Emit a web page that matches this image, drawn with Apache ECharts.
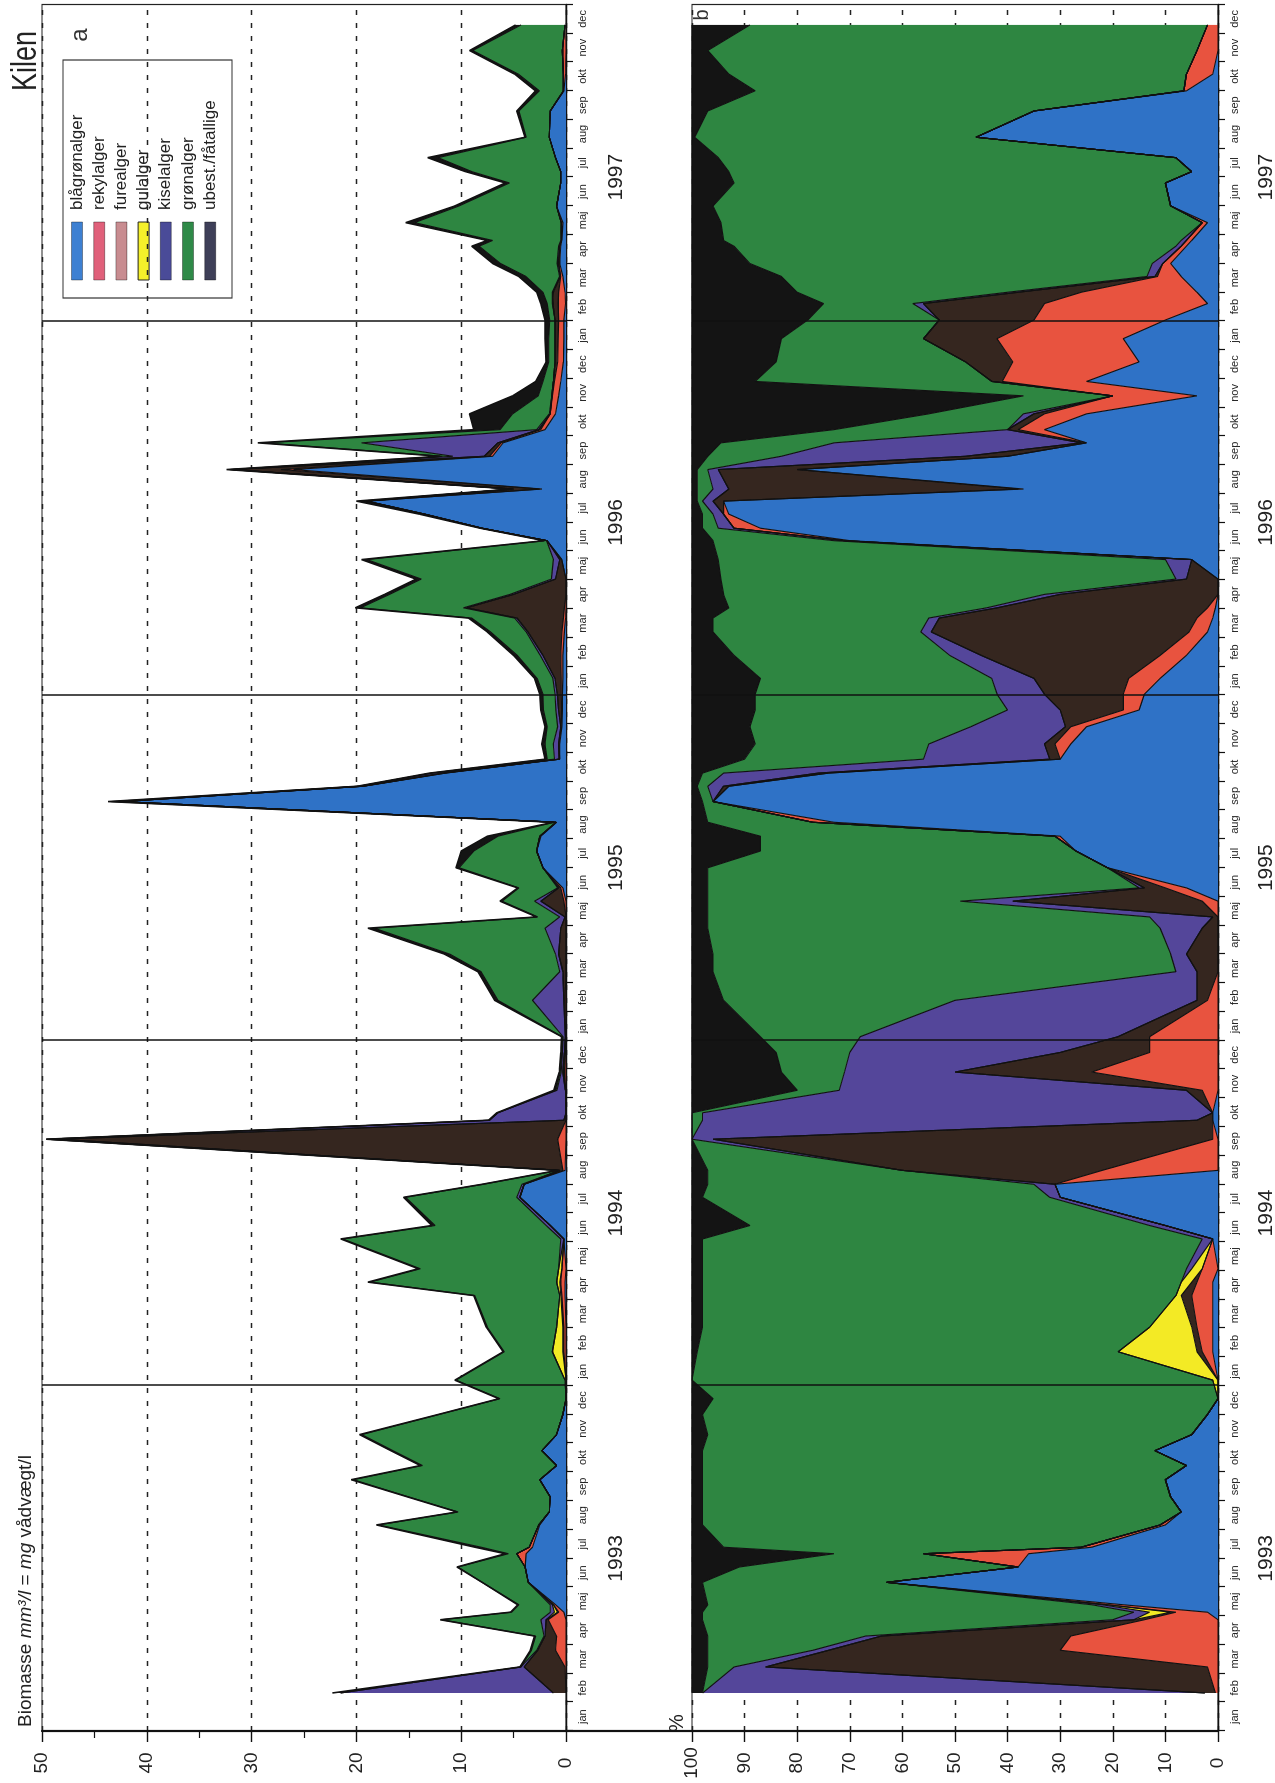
<!DOCTYPE html>
<html>
<head>
<meta charset="utf-8">
<script src="https://cdn.jsdelivr.net/npm/echarts/dist/echarts.min.js"></script>
<style>
  html, body { margin: 0; padding: 0; background: #fff; width: 1275px; height: 1783px; overflow: hidden; }
  /* the figure is laid out in landscape and turned a quarter turn for the portrait page */
  #wrap { position: absolute; left: 0; top: 0; width: 1783px; height: 1275px;
          transform-origin: 0 0; transform: translate(0px, 1783px) rotate(-90deg); }
</style>
</head>
<body>
<div id="wrap"></div>
<script>
// ---- sampling dates (Kilen, 1993-1997) ----
const sampleDates = [
  // 1993
  '1993-02-10','1993-03-08','1993-03-26','1993-04-10','1993-04-27','1993-05-05','1993-05-13','1993-06-06','1993-06-22','1993-07-06',
  '1993-07-13','1993-08-06','1993-08-20','1993-09-05','1993-09-23','1993-10-08','1993-10-24','1993-11-10','1993-12-01','1993-12-18',
  // 1994
  '1994-01-07','1994-02-06','1994-03-02','1994-04-05','1994-04-19','1994-05-03','1994-06-04','1994-06-18','1994-07-18','1994-08-01',
  '1994-08-16','1994-09-18','1994-10-08','1994-10-16','1994-11-09','1994-11-28','1994-12-19',
  // 1995
  '1995-01-05','1995-02-12','1995-03-13','1995-04-01','1995-04-28','1995-05-10','1995-05-27','1995-06-10','1995-07-01','1995-07-19',
  '1995-08-04','1995-08-19','1995-09-10','1995-09-26','1995-10-10','1995-10-25','1995-11-10','1995-11-28','1995-12-16',
  // 1996
  '1996-01-02','1996-01-19','1996-02-12','1996-03-07','1996-03-22','1996-04-02','1996-04-16','1996-05-02','1996-05-23','1996-06-12',
  '1996-06-25','1996-07-10','1996-07-24','1996-08-06','1996-08-27','1996-09-10','1996-09-24','1996-10-08','1996-10-25','1996-11-13',
  '1996-11-28','1996-12-19',
  // 1997
  '1997-01-13','1997-02-02','1997-02-18','1997-03-01','1997-03-18','1997-04-01','1997-04-19','1997-04-25','1997-05-14','1997-06-01',
  '1997-06-25','1997-07-07','1997-07-22','1997-08-13','1997-09-10','1997-10-01','1997-10-19','1997-11-13','1997-12-10'
];

// ---- a: biomass, mm3/l (= mg wet weight/l) ----
const biomBlaagroen = [
  0,0,0,0,0,0.2,1.0,3.6,3.9,3.8,3.2,2.5,1.6,1.5,2.5,0.9,2.3,0.9,0.3,0,
  0,0,0,0.1,0.1,0,0.2,1.5,4.4,4.0,0.1,0,0,0,0,0,0,
  0,0,0,0,0,0,0,0.3,2.2,2.8,2.4,0.9,42.5,19.3,11.5,0.6,0.6,0.4,0.35,
  0.35,0.3,0.3,0.15,0.05,0,0,0,0.4,1.8,8.0,13.5,19.0,2.3,26,7.0,6.0,2.0,1.0,0.7,0.5,0.25,
  0.2,0.2,0.05,0.1,0.3,0.6,0.5,0.4,0.3,0.9,0.5,0.5,1.0,1.6,1.5,0.2,0.05,0,0
];
const biomRekyl = [
  0,0.1,1.0,0.9,1.7,0.5,0.2,0,0,0.9,0.3,0.1,0,0,0,0,0,0,0,0,
  0,0.2,0.2,0.3,0.4,0.4,0,0,0,0,0.2,0.8,0,0,0.03,0.15,0.05,
  0.05,0.1,0,0,0,0,0.2,0.2,0,0,0.1,0.05,0,0,0,0,0.07,0.06,0.07,
  0.1,0.15,0.2,0.25,0.2,0.15,0,0,0,0,0,0,0,0.2,1.2,0.3,0.2,0.4,0.5,0.6,0.6,0.55,
  0.55,0.5,0.7,0.6,0.2,0.1,0.1,0.05,0.15,0,0,0,0,0,0,0.05,0.2,0.35,0.1
];
const biomFure = [
  1.2,3.9,1.7,1.1,0.2,0.1,0,0,0,0,0,0,0,0,0,0,0,0,0,0,
  0,0.1,0.1,0.1,0.1,0,0,0,0,0,0.3,47.6,0.2,0,0.03,0.15,0.1,
  0.02,0.1,0.3,0.7,0.5,0.1,2.2,0.2,0,0,0,0,0,0.1,0.3,0.05,0.05,0.04,0.3,
  0.38,0.6,1.7,3.2,4.4,9.3,5.0,1.0,0.2,0,0,0,0.1,2.5,4.6,0.5,0.3,0.2,0,0.05,0.1,0.25,
  0.3,0.35,0.5,0.5,0.05,0,0,0,0,0,0,0,0,0,0,0,0,0,0
];
const biomGul = [
  0,0,0,0,0,0.3,0.1,0,0,0,0,0,0,0,0,0,0,0,0,0,
  0.1,1.0,0.6,0.1,0.3,0.3,0,0,0,0,0,0,0,0,0,0,0,
  0,0,0,0,0,0,0,0,0,0,0,0,0,0,0,0,0,0,0,
  0,0,0,0.05,0.05,0.05,0,0,0,0,0,0,0,0,0,0,0,0,0,0,0,0,
  0,0,0,0.05,0,0,0,0,0,0,0,0,0,0,0,0,0,0,0
];
const biomKisel = [
  20.3,0.3,0.1,0.1,0.5,0.4,0.2,0,0,0,0,0,0,0,0,0,0,0,0,0,
  0,0,0,0,0,0,0.3,0.4,0.3,0.2,0,1.2,7.1,6.5,0.8,0.15,0.2,
  0.2,3.0,0.3,0.3,1.5,0.5,0.6,0.1,0,0,0,0,0,0.3,1.0,0.45,0.5,0.3,0.24,
  0.22,0.2,0.25,0.15,0.2,0.3,0.35,0.4,0.6,0.05,0.05,0.05,0.1,0.1,0.2,3.0,13.0,0.2,0.1,0,0,0,
  0,0,0.05,0.05,0.07,0.15,0.1,0.05,0,0,0,0,0,0,0,0,0,0,0
];
const biomGroen = [
  0,0,0.5,0.8,9.5,3.7,3.0,4.4,6.4,0.8,4.6,15.3,8.7,13.5,17.8,12.8,14.2,18.6,11.8,6.3,
  10.4,4.6,6.6,8.1,17.8,13.2,20.8,10.6,10.6,3.7,0.1,0,0,0,0.1,0.1,0.05,
  0.1,3.3,7.5,10.1,16.3,2.1,3.1,3.7,8.0,6.0,4.0,0.2,0.9,0.1,0,0.7,0.8,1.0,1.2,
  1.15,1.5,2.2,3.4,4.1,9.8,11.5,12.4,17.8,0.15,0.05,0.15,0.4,0.05,0.1,1.0,9.4,3.5,3.5,1.3,1.0,0.6,
  0.6,0.5,0.5,0.9,3.2,5.4,7.6,6.5,14.0,9.3,4.9,8.5,11.2,2.2,3.0,2.3,4.3,8.55,4.2
];
const biomUbest = [
  0.8,0.1,0.1,0.1,0.1,0.1,0.1,0,0.1,0.3,0.6,0.2,0.1,0.1,0.2,0.2,0.2,0.2,0.1,0.1,
  0.1,0.1,0.1,0.1,0.2,0.2,0.2,0.3,0.2,0.1,0.1,0,0.1,0.1,0.2,0.1,0.1,
  0.05,0.3,0.3,0.5,0.6,0.1,0.2,0.1,0.3,1.2,1.0,0.05,0.3,0.1,0.2,0.2,0.28,0.2,0.24,
  0.3,0.25,0.35,0.3,0.3,0.5,0.45,0.5,0.5,0.1,0.1,0.3,0.4,0.05,0.3,0.2,0.5,2.5,4.1,2.45,0.7,0.25,
  0.35,0.45,0.6,0.6,0.68,0.75,0.7,0.5,0.85,0.4,0.4,0.6,1.0,0.1,0.2,0.35,0.35,0.3,0.5
];

// ---- b: share of total biomass, % ----
const pctBlaagroen = [
  0,0,0,0,0,2,18,63,38,36,24,10,7,9,10,6,12,5,2,0,
  0,1,1,1,1,0,1,10,30,31,0,0,1,1,0,0,0,
  0,0,0,0,0,0,0,6,21,27,30,73,96,93,74,30,28,25,15,
  14,11,6,2,1,0.5,0,0,5,70,87,93,94,37,80,40,25,33,25,4,25,15,
  18,10,2,4,7,9,6,5,2,9,10,5,8,46,35,6,1,0,0
];
const pctRekyl = [
  0.5,2,30,28,14,6,3,0,0,20,2,1,0,0,0,0,0,0,0,0,
  0,2,3,4,3,3,0,0,0,0,22,1,0,0,3,24,13,
  13,2,0,0,0,0,3,4,0,0,1,4,0,0,0,0,3,3,3,
  4,6,5,3.5,3,1.5,0,0,0,1,5,1,0,1,0,0,0,5,8,16,16,24,
  24,25,31,22,4.5,1.5,1,1,1,0,0,0,0,0,0,0.5,5,4,2
];
const pctFure = [
  2,84,44,36,2,1,0,0,0,0,0,0,0,0,0,0,0,0,0,0,
  0,1,1,2,1,0,0,0,0,0,38,95,3,0,3,26,17,
  6,2,4,6,3,1,36,4,0,0,0,0,0,1,2,2,2,1,12,
  15,18,34,49,49,40,30,6,0,0,0,0,2,55,15,8,1,2,2,0,2,9,
  14,18,23,12,0.5,0,0,0,0,0,0,0,0,0,0,0,0,0,0
];
const pctGul = [
  0,0,0,0,0,4,1,0,0,0,0,0,0,0,0,0,0,0,0,0,
  1,15,8,1,2,2,0,0,0,0,0,0,0,0,0,0,0,
  0,0,0,0,0,0,0,0,0,0,0,0,0,0,0,0,0,0,0,
  0,0,0,0,0,0,0,0,0,0,0,0,0,0,0,0,0,0,0,0,0,0,
  0,0,0,0,0,0,0,0,0,0,0,0,0,0,0,0,0,0,0
];
const pctKisel = [
  95.5,6,3,3,4,3,2,0,0,0,0,0,0,0,0,0,0,0,0,0,
  0,0,0,0,0,1,2,3,2,4,0,4,94,97,66,21,40,
  49,46,4,3,8,12,10,1,0,0,0,0,0,3,18,24,22,18,10,
  9,8,6,2,2,2,3,2,5,2,3,2,2,3,2,35,47,0,2,0,0,0,
  0,0,2,2,1.5,2,1,1,0,0,0,0,0,0,0,0,0,0,0
];
const pctGroen = [
  0,5,20,30,78,82,73,35,53,17,68,87,91,89,88,92,86,92,96,96,
  99,80,85,90,91,92,95,76,66,62,37,0,2,2,8,12,14,
  19,44,88,87,86,84,48,82,76,60,56,20,2,2,4,34,33,42,48,
  46,44,41,39.5,41,49,61,86.5,85,23,3,2,1,3,2,14,21.5,33,18,17,45,36,
  27,25,17,40,69.5,76.5,84,87,91.5,87,82,88,87,53.5,62,81.5,87,93,87
];
const pctUbest = [
  2,3,3,3,2,2,3,2,9,27,6,2,2,2,2,2,2,3,2,4,
  0,1,2,2,2,2,2,11,2,3,3,0,0,0,20,17,16,
  13,6,4,4,3,3,3,3,3,13,13,3,2,1,2,10,12,11,12,
  12,13,8,4,4,7,6,5.5,5,4,2,2,1,1,1,3,5.5,27,45,63,12,16,
  17,22,25,20,17,11,8,6,5.5,4,8,7,5,0.5,3,12,7,3,11
];

// ---- labels ----
const groupNames = ['blågrønalger','rekylalger','furealger','gulalger','kiselalger','grønalger','ubest./fåtallige'];
const monthNames = ['jan','feb','mar','apr','maj','jun','jul','aug','sep','okt','nov','dec'];
const yearNames = ['1993','1994','1995','1996','1997'];
const dividerDates = ['1994-01-01','1995-01-01','1996-01-01','1997-02-01'];

// ---- styling ----
const FONT = 'Liberation Sans, Arial, Helvetica, sans-serif';
const areaColors = ['#2f72c6','#e8533f','#35261f','#f3ea25','#54469a','#2e8641','#141414'];
const legendColors = ['#3d80d2','#e0607a','#c88c90','#f5f02a','#4a4b98','#2f8a48','#3e3f58'];

const biomassSeries = [biomBlaagroen, biomRekyl, biomFure, biomGul, biomKisel, biomGroen, biomUbest];
const percentSeries = [pctBlaagroen, pctRekyl, pctFure, pctGul, pctKisel, pctGroen, pctUbest];

// The time axis gives every month the same width, as the month ticks do:
// a date is placed at its month index plus the fraction of that month elapsed.
const T0 = Date.UTC(1993, 0, 1);
const MONTH_MS = 30.436875 * 86400000;
function timePos(s) {
  const [y, m, d] = s.split('-').map(Number);
  const dim = new Date(y, m, 0).getDate();
  const months = (y - 1993) * 12 + (m - 1) + (d - 1) / dim;
  return T0 + months * MONTH_MS;
}
const xs = sampleDates.map(timePos);
const monthCategories = [];
yearNames.forEach(y => monthNames.forEach(m => monthCategories.push(m + ' ' + y)));

function timeAxis(gridIndex) {
  return { type: 'time', gridIndex, min: T0, max: T0 + 60 * MONTH_MS, show: false };
}
function monthAxis(gridIndex) {
  return {
    type: 'category', gridIndex, data: monthCategories, boundaryGap: true, position: 'bottom',
    axisLine: { show: true, lineStyle: { color: '#111', width: 1.4 } },
    axisTick: { show: true, interval: 0, length: 7, lineStyle: { color: '#111', width: 1.2 } },
    axisLabel: { interval: 0, fontSize: 11, margin: 11, color: '#222', fontFamily: FONT,
                 formatter: v => v.split(' ')[0] },
    splitLine: { show: false }
  };
}
function yearAxis(gridIndex, margin) {
  return {
    type: 'category', gridIndex, data: yearNames, position: 'bottom',
    axisLine: { show: false }, axisTick: { show: false }, splitLine: { show: false },
    axisLabel: { fontSize: 21, margin, color: '#222', fontFamily: FONT }
  };
}
function valueAxis(gridIndex, max, minor) {
  return {
    type: 'value', gridIndex, min: 0, max, interval: 10, position: 'left',
    axisLine: { show: true, lineStyle: { color: '#111', width: 2.2 } },
    axisTick: { show: true, length: 11, lineStyle: { color: '#111', width: 1.4 } },
    minorTick: { show: minor, splitNumber: 2, length: 7, lineStyle: { color: '#111', width: 1.2 } },
    minorSplitLine: { show: false },
    axisLabel: { fontSize: 19, margin: 32, align: 'center', color: '#222', fontFamily: FONT },
    splitLine: { show: true, lineStyle: { color: '#222', width: 1.4, type: [5, 8] } }
  };
}

function buildSeries(values, panel) {
  return values.map((arr, k) => {
    const s = {
      type: 'line', name: groupNames[k],
      xAxisIndex: panel === 0 ? 0 : 3, yAxisIndex: panel,
      stack: panel === 0 ? 'biomasse' : 'andel',
      data: xs.map((x, i) => [x, arr[i]]),
      showSymbol: false, symbol: 'none', smooth: false, silent: true,
      lineStyle: { color: '#111', width: k === 6 ? 1.6 : 1.15 },
      areaStyle: { color: areaColors[k], opacity: 1 },
      emphasis: { disabled: true }
    };
    if (k === 6) {
      s.markLine = {
        silent: true, symbol: ['none', 'none'], label: { show: false },
        lineStyle: { color: '#111', width: 1.5, type: 'solid' },
        data: dividerDates.map(d => ({ xAxis: timePos(d) }))
      };
    }
    return s;
  });
}

// legend drawn as a boxed key in the top corner of panel a
const legendChildren = [{
  type: 'rect', shape: { x: 1485, y: 63, width: 238, height: 169 },
  style: { fill: '#fff', stroke: '#333', lineWidth: 1.2 }
}];
groupNames.forEach((name, i) => {
  const cy = 77 + i * 22.2;
  legendChildren.push({
    type: 'rect', shape: { x: 1503, y: cy - 5.5, width: 58, height: 11 },
    style: { fill: legendColors[i], stroke: i === 3 ? '#222' : 'rgba(0,0,0,0.35)', lineWidth: 1 }
  });
  legendChildren.push({
    type: 'text', x: 1573, y: cy,
    style: { text: name, fontSize: 17, fontFamily: FONT, fill: '#222', verticalAlign: 'middle', align: 'left' }
  });
});

const chart = echarts.init(document.getElementById('wrap'), null, { renderer: 'canvas' });
chart.setOption({
  animation: false,
  backgroundColor: '#fff',
  textStyle: { fontFamily: FONT },
  grid: [
    { left: 52, right: 4.5, top: 42, height: 524, show: true, borderColor: '#222', borderWidth: 1.2,
      backgroundColor: 'transparent', outerBoundsMode: 'none', containLabel: false },
    { left: 52, right: 4.5, top: 692, height: 526, show: true, borderColor: '#222', borderWidth: 1.2,
      backgroundColor: 'transparent', outerBoundsMode: 'none', containLabel: false }
  ],
  xAxis: [
    timeAxis(0),
    monthAxis(0),
    yearAxis(0, 40),
    timeAxis(1),
    monthAxis(1),
    yearAxis(1, 38)
  ],
  yAxis: [valueAxis(0, 50, true), valueAxis(1, 100, false)],
  series: buildSeries(biomassSeries, 0).concat(buildSeries(percentSeries, 1)),
  graphic: [
    { type: 'text', x: 56, y: 26, z: 100,
      style: { text: '{n|Biomasse }{i|mm³/l}{n| = }{i|mg}{n| vådvægt/l}', verticalAlign: 'middle',
               rich: { n: { fontSize: 19, fontFamily: FONT, fill: '#222' },
                       i: { fontSize: 19, fontFamily: FONT, fontStyle: 'italic', fill: '#222' } } } },
    { type: 'text', x: 60, y: 677, z: 100,
      style: { text: '%', fontSize: 20, fontFamily: FONT, fill: '#222', align: 'center', verticalAlign: 'middle' } },
    { type: 'text', x: 1752, y: 26, z: 100, scaleY: 1.3,
      style: { text: 'Kilen', fontSize: 27, fontFamily: FONT, fill: '#222', align: 'right', verticalAlign: 'middle' } },
    { type: 'text', x: 1748, y: 80, z: 100,
      style: { text: 'a', fontSize: 24, fontFamily: FONT, fill: '#333', align: 'center', verticalAlign: 'middle' } },
    { type: 'text', x: 1768, y: 702, z: 100,
      style: { text: 'b', fontSize: 20, fontFamily: FONT, fill: '#333', align: 'center', verticalAlign: 'middle' } },
    { type: 'line', z: 100, shape: { x1: 52, y1: 566, x2: 52, y2: 692 },
      style: { stroke: '#111', lineWidth: 2.2 } },
    { type: 'group', z: 100, children: legendChildren }
  ]
});
</script>
</body>
</html>
